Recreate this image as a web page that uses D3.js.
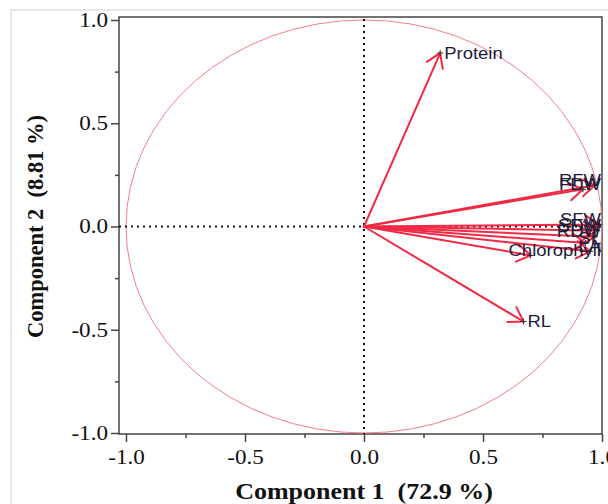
<!DOCTYPE html>
<html>
<head>
<meta charset="utf-8">
<title>loading plot</title>
<script src="https://cdn.jsdelivr.net/npm/d3@7"></script>
<style>
  body { margin: 0; background: #fff; }
  .tick text { font-family: "Liberation Serif", serif; font-size: 20px; fill: #111; }
  .tick line { stroke: #444; stroke-width: 1.5px; }
  .axis-title { font-family: "Liberation Serif", serif; font-weight: bold; font-size: 22.5px; fill: #111; white-space: pre; }
  .lbl { font-family: "Liberation Sans", Arial, sans-serif; font-size: 16px; fill: #1c1c3a; }
</style>
</head>
<body>
<script>
// loadings
var variables = ["Protein", "RL", "FDW", "RFW", "SFW", "SDW", "RDW", "SL", "LA", "Chlorophyll"];
var comp1 = [0.32, 0.67, 0.92, 0.97, 0.99, 0.98, 0.97, 0.93, 0.95, 0.70];
var comp2 = [0.84, -0.46, 0.18, 0.20, 0.01, -0.02, -0.05, -0.08, -0.12, -0.14];
var ticks = [-1, -0.5, 0, 0.5, 1];
var minorTicks = [-0.75, -0.25, 0.25, 0.75];
var xTitle = "Component 1  (72.9 %)";
var yTitle = "Component 2  (8.81 %)";

var width = 608, height = 504;
var stretch = 1.155; // the picture is wider than tall, text too
var x = d3.scaleLinear().domain([-1, 1]).range([126, 602]);
var y = d3.scaleLinear().domain([-1, 1]).range([433, 20]);
var box = { left: 119, top: 17, right: 602, bottom: 434 };

function widen(sel) {
    sel.each(function() {
        var w = this.getComputedTextLength();
        d3.select(this).attr("textLength", w * stretch).attr("lengthAdjust", "spacingAndGlyphs");
    });
}
var fmt = function(d) { return d.toFixed(1); };

var svg = d3.select("body").append("svg")
    .attr("width", width)
    .attr("height", height);

// outer light frame
svg.append("rect")
    .attr("x", 11).attr("y", 10)
    .attr("width", 640).attr("height", 540)
    .attr("fill", "none").attr("stroke", "#d0d0d0");

// axes
svg.append("g")
    .attr("transform", "translate(" + box.left + ",0)")
    .call(d3.axisLeft(y).tickValues(ticks).tickSize(8).tickPadding(3).tickFormat(fmt));
svg.append("g")
    .attr("transform", "translate(" + box.left + ",0)")
    .call(d3.axisLeft(y).tickValues(minorTicks).tickSize(4).tickFormat(""));
svg.append("g")
    .attr("transform", "translate(0," + box.bottom + ")")
    .call(d3.axisBottom(x).tickValues(ticks).tickSize(8).tickPadding(8).tickFormat(fmt));
svg.append("g")
    .attr("transform", "translate(0," + box.bottom + ")")
    .call(d3.axisBottom(x).tickValues(minorTicks).tickSize(4).tickFormat(""));
svg.selectAll(".domain").remove();
svg.selectAll(".tick text").call(widen);

// plot frame
svg.append("rect")
    .attr("x", box.left).attr("y", box.top)
    .attr("width", box.right - box.left).attr("height", box.bottom - box.top)
    .attr("fill", "none").attr("stroke", "#444").attr("stroke-width", 1.5);

// unit circle
svg.append("ellipse")
    .attr("cx", x(0)).attr("cy", y(0))
    .attr("rx", x(1) - x(0)).attr("ry", y(0) - y(1))
    .attr("fill", "none").attr("stroke", "#f28088").attr("stroke-width", 1);

// zero reference lines
svg.append("line")
    .attr("x1", x(0)).attr("x2", x(0))
    .attr("y1", box.top + 2).attr("y2", box.bottom)
    .attr("stroke", "#111").attr("stroke-width", 2).attr("stroke-dasharray", "2,4");
svg.append("line")
    .attr("x1", box.left).attr("x2", box.right)
    .attr("y1", y(0)).attr("y2", y(0))
    .attr("stroke", "#111").attr("stroke-width", 2).attr("stroke-dasharray", "2,4");

var data = variables.map(function(name, i) {
    return { name: name, pc1: comp1[i], pc2: comp2[i] };
});

// arrows
var headLen = 16, headAng = 33 * Math.PI / 180;
svg.append("g").selectAll("path")
    .data(data)
    .enter().append("path")
    .attr("fill", "none")
    .attr("stroke", "#f02a44")
    .attr("stroke-width", 2)
    .attr("stroke-linecap", "round")
    .attr("d", function(d) {
        var x0 = x(0), y0 = y(0), x1 = x(d.pc1), y1 = y(d.pc2);
        var a = Math.atan2(y0 - y1, x0 - x1);
        var p = d3.path();
        p.moveTo(x0, y0); p.lineTo(x1, y1);
        p.moveTo(x1 + headLen * Math.cos(a + headAng), y1 + headLen * Math.sin(a + headAng));
        p.lineTo(x1, y1);
        p.lineTo(x1 + headLen * Math.cos(a - headAng), y1 + headLen * Math.sin(a - headAng));
        return p.toString();
    });

// tip markers
svg.append("g").selectAll("path")
    .data(data)
    .enter().append("path")
    .attr("stroke", "#333").attr("stroke-width", 1)
    .attr("d", function(d) {
        var cx = x(d.pc1), cy = y(d.pc2);
        return "M" + (cx - 3) + "," + cy + "H" + (cx + 3) + "M" + cx + "," + (cy - 3) + "V" + (cy + 3);
    });

// labels, pushed back inside the frame when they would cross it
svg.append("g").selectAll("text")
    .data(data)
    .enter().append("text")
    .attr("class", "lbl")
    .attr("dy", "0.35em")
    .text(function(d) { return d.name; })
    .each(function(d) {
        var w = this.getComputedTextLength() * stretch;
        var tx = x(d.pc1) + 4, ty = y(d.pc2);
        if (tx + w > box.right - 1) {
            tx = box.right - 1 - w;
            ty -= 5;
        }
        d3.select(this).attr("x", tx).attr("y", ty)
            .attr("textLength", w).attr("lengthAdjust", "spacingAndGlyphs");
    });

// axis titles
svg.append("text")
    .attr("class", "axis-title")
    .attr("x", x(0)).attr("y", 499)
    .attr("text-anchor", "middle")
    .text(xTitle)
    .call(widen);
svg.append("text")
    .attr("class", "axis-title")
    .attr("transform", "translate(43," + y(0) + ") rotate(-90)")
    .attr("text-anchor", "middle")
    .text(yTitle);
</script>
</body>
</html>
